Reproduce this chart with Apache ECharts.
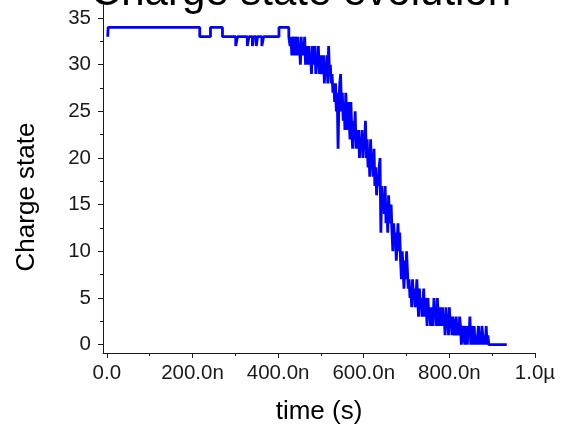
<!DOCTYPE html>
<html>
<head>
<meta charset="utf-8">
<script src="https://cdn.jsdelivr.net/npm/echarts@6/dist/echarts.min.js"></script>
<style>
  html, body { margin: 0; padding: 0; background: #fff; }
  #chart { width: 562px; height: 427px; }
</style>
</head>
<body>
<div id="chart"></div>
<script>
// Time stamps in nanoseconds; the charge holds its value until the next stamp.
const times = [
  2, 3, 217, 242, 270, 301, 305, 328, 332, 340, 343, 349, 352, 362, 366, 402, 425,
  426, 428, 430, 432, 434, 436, 438, 440, 442, 444,
  446, 448, 450, 452, 454, 456, 458, 460, 462, 464,
  466, 468, 470, 472, 474, 476, 478, 480, 482, 484,
  486, 488, 490, 492, 494, 496, 498, 500, 502, 504,
  506, 508, 510, 512, 514, 516, 518, 520, 522, 524,
  526, 528, 530, 532, 534, 536, 538, 540, 542, 544,
  546, 548, 550, 552, 554, 556, 558, 560, 562, 564,
  566, 568, 570, 572, 574, 576, 578, 580, 582, 584,
  586, 588, 590, 592, 594, 596, 598, 600, 602, 604,
  606, 608, 610, 612, 614, 616, 618, 620, 622, 624,
  626, 628, 630, 632, 634, 636, 638, 640, 642, 644,
  646, 648, 650, 652, 654, 656, 658, 660, 662, 664,
  666, 668, 670, 672, 674, 676, 678, 680, 682, 684,
  686, 688, 690, 692, 694, 696, 698, 700, 702, 704,
  706, 708, 710, 712, 714, 716, 718, 720, 722, 724,
  726, 728, 730, 732, 734, 736, 738, 740, 742, 744,
  746, 748, 750, 752, 754, 756, 758, 760, 762, 764,
  766, 768, 770, 772, 774, 776, 778, 780, 782, 784,
  786, 788, 790, 792, 794, 796, 798, 800, 802, 804,
  806, 808, 810, 812, 814, 816, 818, 820, 822, 824,
  826, 828, 830, 832, 834, 836, 838, 840, 842, 844,
  846, 848, 850, 852, 854, 856, 858, 860, 862, 864,
  866, 868, 870, 872, 874, 876, 878, 880, 882, 884,
  886, 888, 890, 892, 894,
  934
];
const charges = [
  33, 34, 33, 34, 33, 32, 33, 32, 33, 32, 33, 32, 33, 32, 33, 34, 33,
  33, 32, 33, 31, 33, 32, 31, 33, 32, 31,
  33, 31, 32, 30, 33, 31, 32, 31, 33, 30,
  32, 30, 31, 32, 30, 31, 29, 32, 30, 31,
  32, 29, 31, 30, 32, 29, 30, 31, 29, 30,
  31, 28, 30, 29, 31, 28, 32, 29, 30, 28,
  29, 27, 28, 26, 28, 25, 27, 21, 26, 28,
  29, 25, 27, 24, 26, 23, 27, 25, 23, 26,
  24, 22, 26, 23, 21, 24, 22, 25, 21, 23,
  21, 23, 20, 22, 21, 23, 20, 22, 21, 24,
  20, 22, 19, 21, 18, 22, 19, 20, 18, 21,
  17, 19, 16, 18, 17, 19, 20, 12, 17, 15,
  16, 14, 17, 13, 15, 12, 16, 14, 13, 15,
  12, 10, 13, 11, 12, 9, 11, 13, 10, 12,
  9, 7, 10, 8, 6, 9, 7, 10, 8, 6,
  7, 5, 6, 4, 7, 5, 6, 4, 5, 7,
  5, 3, 6, 4, 5, 3, 4, 6, 3, 5,
  4, 2, 5, 3, 4, 2, 3, 4, 2, 5,
  3, 4, 2, 5, 3, 2, 4, 3, 2, 4,
  2, 3, 1, 4, 2, 3, 1, 4, 2, 3,
  1, 3, 2, 1, 2, 3, 1, 2, 1, 3,
  2, 0, 1, 2, 1, 0, 2, 1, 0, 2,
  1, 3, 0, 2, 1, 0, 2, 0, 1, 0,
  1, 2, 0, 1, 0, 2, 1, 0, 1, 0,
  2, 0, 1, 0, 0,
  0
];

const xTickValues = [0, 200, 400, 600, 800, 1000];
const xTickLabels = ['0.0', '200.0n', '400.0n', '600.0n', '800.0n', '1.0\u00b5'];
const xMinorTicks = [100, 300, 500, 700, 900];
const yTickValues = [0, 5, 10, 15, 20, 25, 30, 35];
const yMinorTicks = [2.5, 7.5, 12.5, 17.5, 22.5, 27.5, 32.5];

const FONT = '"Liberation Sans", Arial, sans-serif';
const INK = '#1a1a1a';

const chart = echarts.init(document.getElementById('chart'), null, { renderer: 'canvas' });

const xRange = { min: -9, max: 1000 };
const yRange = { min: -0.9, max: 36.4 };

chart.setOption({
  animation: false,
  backgroundColor: '#ffffff',
  graphic: [{
    type: 'text',
    x: 301,
    y: -7,
    style: {
      text: 'Charge state evolution',
      fontSize: 42,
      fontFamily: FONT,
      fill: '#000',
      align: 'center',
      verticalAlign: 'middle'
    }
  }],
  grid: { left: 103, right: 27, top: 5, bottom: 74, outerBoundsMode: 'none', containLabel: false },
  xAxis: [{
    type: 'value',
    position: 'bottom',
    min: xRange.min, max: xRange.max,
    axisLine: { show: true, onZero: false, lineStyle: { color: INK, width: 1 } },
    axisTick: { show: true, customValues: xTickValues, length: 5, lineStyle: { color: INK } },
    axisLabel: {
      customValues: xTickValues,
      formatter: v => xTickLabels[xTickValues.indexOf(v)] ?? '',
      fontSize: 20.5, fontFamily: FONT, color: INK, margin: 10
    },
    splitLine: { show: false },
    name: 'time (s)',
    nameLocation: 'middle',
    nameGap: 46,
    nameTextStyle: { fontSize: 26, fontFamily: FONT, color: '#000' }
  }, {
    type: 'value',
    position: 'bottom',
    min: xRange.min, max: xRange.max,
    axisLine: { show: false, onZero: false },
    axisTick: { show: true, customValues: xMinorTicks, length: 3, lineStyle: { color: INK } },
    axisLabel: { show: false },
    splitLine: { show: false }
  }],
  yAxis: [{
    type: 'value',
    position: 'left',
    min: yRange.min, max: yRange.max,
    axisLine: { show: true, onZero: false, lineStyle: { color: INK, width: 1 } },
    axisTick: { show: true, customValues: yTickValues, length: 5, lineStyle: { color: INK } },
    axisLabel: {
      customValues: yTickValues,
      fontSize: 20.5, fontFamily: FONT, color: INK, margin: 12
    },
    splitLine: { show: false },
    name: 'Charge state',
    nameLocation: 'middle',
    nameGap: 63,
    nameTextStyle: { fontSize: 26, fontFamily: FONT, color: '#000', padding: [0, 36, 0, 0] }
  }, {
    type: 'value',
    position: 'left',
    min: yRange.min, max: yRange.max,
    axisLine: { show: false, onZero: false },
    axisTick: { show: true, customValues: yMinorTicks, length: 3, lineStyle: { color: INK } },
    axisLabel: { show: false },
    splitLine: { show: false }
  }],
  series: [{
    type: 'line',
    xAxisIndex: 0,
    yAxisIndex: 0,
    step: 'end',
    symbol: 'none',
    lineStyle: { color: '#0000ff', width: 2.8 },
    data: times.map((t, i) => [t, charges[i]])
  }]
});
</script>
</body>
</html>
